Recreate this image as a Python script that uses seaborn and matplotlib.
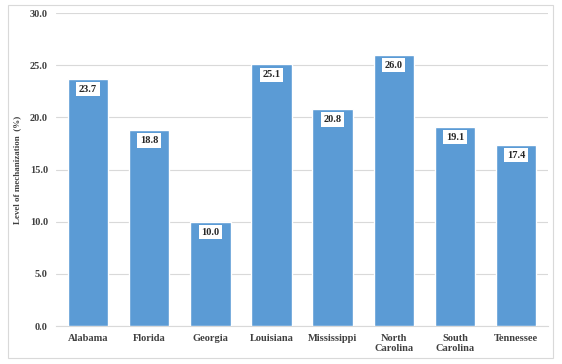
import matplotlib
matplotlib.use("Agg")
import matplotlib.pyplot as plt
import seaborn as sns
import pandas as pd
from matplotlib.patches import Rectangle

states = ["Alabama", "Florida", "Georgia", "Louisiana", "Mississippi",
          "North\nCarolina", "South\nCarolina", "Tennessee"]
mechanization = [23.7, 18.8, 10.0, 25.1, 20.8, 26.0, 19.1, 17.4]
y_ticks = [0, 5, 10, 15, 20, 25, 30]

df = pd.DataFrame({"state": states, "value": mechanization})

sns.set_style("white")
plt.rcParams["font.family"] = ["Liberation Serif", "DejaVu Serif"]

fig = plt.figure(figsize=(5.62, 3.64), dpi=100)
fig.patches.append(Rectangle((0.014, 0.016), 0.97, 0.97, transform=fig.transFigure,
                             fill=False, edgecolor="#d9d9d9", linewidth=0.8))
ax = fig.add_axes([0.1, 0.104, 0.875, 0.86])

sns.barplot(data=df, x="state", y="value", color="#5b9bd5", saturation=1,
            width=0.66, ax=ax, zorder=3)

for i, v in enumerate(mechanization):
    ax.text(i, v - 1.0, f"{v:.1f}", ha="center", va="center", fontsize=7.5,
            fontweight="bold", color="#262626",
            bbox=dict(boxstyle="square,pad=0.25", facecolor="white", edgecolor="none"))

ax.set_ylim(0, 30)
ax.set_xlim(-0.52, 7.52)
ax.set_yticks(y_ticks)
ax.set_yticklabels([f"{t:.1f}" for t in y_ticks], fontsize=7.5, fontweight="bold", color="#404040")
ax.set_xticks(range(len(states)))
ax.set_xticklabels(states, fontsize=7.5, fontweight="bold", color="#404040", linespacing=1.1)
ax.yaxis.grid(True, color="#d9d9d9", linewidth=0.8, zorder=0)
ax.set_axisbelow(True)
for s in ["top", "right", "left"]:
    ax.spines[s].set_visible(False)
ax.spines["bottom"].set_color("#d9d9d9")
ax.tick_params(axis="both", length=0, pad=6)
ax.set_xlabel("")
ax.set_ylabel("Level of mechanization  (%)", fontsize=6.5, fontweight="bold", color="#404040", labelpad=6)

fig.savefig("out.png", dpi=100)
